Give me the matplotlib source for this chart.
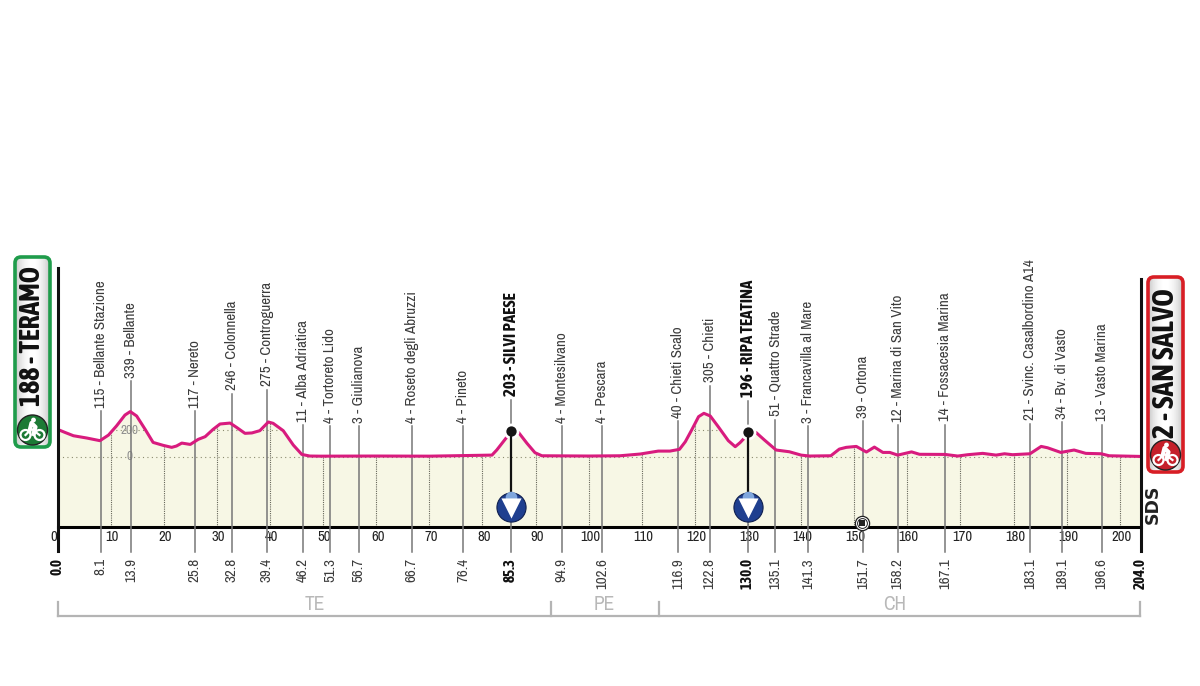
import matplotlib
matplotlib.use('Agg')
import matplotlib.pyplot as plt
import numpy as np
from matplotlib.patches import FancyBboxPatch, Circle
from matplotlib.transforms import ScaledTranslation

NARROW = ['Archivo Narrow', 'Liberation Sans Narrow', 'Liberation Sans', 'DejaVu Sans']
COND = ['Asap Condensed', 'Liberation Sans Narrow', 'Liberation Sans', 'DejaVu Sans']

# profile (km, metres)
profile_km = [0, 1.4, 3.0, 5.5, 8.0, 9.6, 11.1, 12.7, 13.7, 14.9, 16.5, 18.0, 19.9, 21.5, 22.4, 23.4, 25.0,
              26.5, 27.8, 29.3, 30.6, 32.5, 33.7, 35.3, 36.6, 38.1, 39.7, 40.6, 42.5, 44.4, 46.0, 47.5, 49.4,
              60, 70, 81.8, 82.7, 84.9, 85.5, 86.8, 88.4, 89.9, 91.2, 100, 105.9, 109.7, 113.1, 115.3, 117.1,
              118.2, 119.4, 120.7, 121.7, 122.9, 124.4, 126.3, 127.6, 128.5, 129.7, 130.4, 131.5, 133.1, 135.3,
              137.8, 140, 141.6, 145.6, 147.2, 148.5, 150.4, 152.3, 153.8, 155.4, 156.7, 158.2, 160.8, 162.3,
              167.1, 169.5, 171.4, 174.2, 176.7, 178.3, 179.8, 183.1, 185.2, 186.4, 188.9, 191.4, 193.6, 196.5,
              198, 204]
profile_m = [205, 182, 157, 140, 120, 162, 230, 312, 338, 305, 205, 107, 85, 70, 80, 102, 92,
             130, 150, 205, 245, 252, 220, 175, 178, 195, 260, 250, 195, 87, 17, 5, 4,
             5, 4, 12, 50, 162, 190, 182, 100, 30, 7, 5, 7, 20, 42, 42, 55,
             112, 200, 300, 325, 305, 225, 120, 75, 105, 155, 182, 182, 125, 50,
             37, 12, 5, 7, 57, 70, 77, 35, 72, 32, 32, 12, 36, 18,
             17, 5, 15, 25, 12, 22, 15, 22, 77, 67, 32, 50, 25, 22,
             7, 2]

wp_km = [8.1, 13.9, 25.8, 32.8, 39.4, 46.2, 51.3, 56.7, 66.7, 76.4, 85.3, 94.9, 102.6,
         116.9, 122.8, 130.0, 135.1, 141.3, 151.7, 158.2, 167.1, 183.1, 189.1, 196.6]
wp_elev = [115, 339, 117, 246, 275, 11, 4, 3, 4, 4, 203, 4, 4,
           40, 305, 196, 51, 3, 39, 12, 14, 21, 34, 13]
wp_name = ['Bellante Stazione', 'Bellante', 'Nereto', 'Colonnella', 'Controguerra', 'Alba Adriatica',
           'Tortoreto Lido', 'Giulianova', 'Roseto degli Abruzzi', 'Pineto', 'SILVI PAESE', 'Montesilvano',
           'Pescara', 'Chieti Scalo', 'Chieti', 'RIPA TEATINA', 'Quattro Strade', 'Francavilla al Mare',
           'Ortona', 'Marina di San Vito', 'Fossacesia Marina', 'Svinc. Casalbordino A14', 'Bv. di Vasto',
           'Vasto Marina']
sprint_km = [85.3, 130.0]
km_ticks = list(range(0, 201, 10))
elev_ticks = [0, 200]
regions = ['TE', 'PE', 'CH']
region_km = [0, 92.9, 113.2, 203.6]

fig = plt.figure(figsize=(12, 6.86), dpi=100)

# overlay in pixel coordinates for the badges and brackets
deco = fig.add_axes([0, 0, 1, 1], zorder=3)
deco.set_xlim(0, 1200)
deco.set_ylim(686, 0)
deco.axis('off')

ax = fig.add_axes([57.5/1200, (686-527)/686, (1141-57.5)/1200, (527-270)/686], zorder=2)
ax.patch.set_alpha(0)
ax.set_xlim(0, 204)
m_per_px = 1/0.1335
ax.set_ylim((456.7-527)*m_per_px, (456.7-270)*m_per_px)
for s in ['top', 'left', 'right']:
    ax.spines[s].set_visible(False)
ax.spines['bottom'].set_linewidth(2.2)
ax.set_yticks([])


def m_at(py):
    return (456.7-py)*m_per_px


fill = ax.fill_between(profile_km, m_at(527), profile_m, color='#f7f7e5', lw=0, zorder=1)

# elevation guides stay inside the profile
for e in elev_ticks:
    ln, = ax.plot([0, 204], [e, e], color='#8c8c70', lw=0.8, ls=(0, (1, 3)), zorder=2)
    if e > 0:
        ln.set_clip_path(fill.get_paths()[0], ax.transData)
    ax.text(13.5, e, str(e), color='#8f8f8f', fontsize=9.5, family=NARROW, ha='center', va='center', zorder=3)

for k in km_ticks[1:]:
    ax.plot([k, k], [m_at(527), np.interp(k, profile_km, profile_m)], color='#66665a', lw=0.8,
            ls=(0, (1, 1)), zorder=2)

ax.set_xticks(km_ticks)
ax.set_xticklabels(km_ticks, family=NARROW, fontsize=10.5, color='#222222')
ax.tick_params(axis='x', length=0, pad=2.5)
labs = ax.get_xticklabels()
for lab in labs[1:]:
    lab.set_transform(lab.get_transform() + ScaledTranslation(0.015, 0, fig.dpi_scale_trans))
labs[0].set_ha('right')
labs[0].set_transform(labs[0].get_transform() + ScaledTranslation(-0.005, 0, fig.dpi_scale_trans))

for k, e, name in zip(wp_km, wp_elev, wp_name):
    sprint = k in sprint_km
    top = e + 30*m_per_px
    fam = COND if sprint else NARROW
    weight = 'bold' if sprint else 'normal'
    col = '#111111' if sprint else '#3c3c3c'
    ax.plot([k, k], [m_at(552), top], color='#777777', lw=1.1, zorder=4, clip_on=False)
    ax.text(k, top + 3.5*m_per_px, f'{e} - {name}', rotation=90, ha='center', va='bottom', clip_on=False,
            family=fam, fontsize=12.2 if sprint else 10.8, fontweight=weight, color=col, zorder=5)
    ax.text(k, m_at(558), f'{k:.1f}', rotation=90, ha='center', va='top', clip_on=False,
            family=fam, fontsize=10.8, fontweight=weight, color=col, zorder=5)

for k, label in [(0, '0.0'), (204, '204.0')]:
    ax.text(k, m_at(558), label, rotation=90, ha='center', va='top', clip_on=False, family=COND,
            fontsize=10.8, fontweight='bold', color='#111111', zorder=5)

ax.plot(profile_km, profile_m, color='#d81b7e', lw=2.2, zorder=6, solid_capstyle='round', solid_joinstyle='round')

# sprint markers
for k, e in zip(sprint_km, [190, 182]):
    ax.scatter([k], [e], s=130, color='white', lw=0, zorder=7)
    ax.scatter([k], [e], s=55, color='#151515', lw=0, zorder=8)
    ax.plot([k, k], [e, m_at(507)], color='#111111', lw=1.6, zorder=7)
    ax.scatter([k], [m_at(507)], s=440, color='#1f3f8f', edgecolor='#10204f', lw=0.8, zorder=8)
    ax.scatter([k], [m_at(497)], s=70, color='#7fa6dd', lw=0, zorder=9)
    ax.scatter([k], [m_at(508)], s=210, marker='v', color='white', lw=0, zorder=10)

# tunnel mark
ax.scatter([151.4], [m_at(523)], s=105, color='white', edgecolor='#222222', lw=0.9, zorder=8, clip_on=False)
ax.scatter([151.4], [m_at(523)], s=50, color='white', edgecolor='#222222', lw=0.7, zorder=9, clip_on=False)
ax.scatter([151.4], [m_at(523)], s=14, marker='s', color='#222222', lw=0, zorder=10, clip_on=False)

# axis end lines
deco.plot([57.5, 57.5], [268, 551], color='#111111', lw=2.2)
deco.plot([1141, 1141], [279, 551], color='#111111', lw=2.2)

# province brackets
bx = [(k*5.315 + 57.5) for k in region_km]
deco.plot([bx[0], bx[3]], [615.7, 615.7], color='#b4b4b4', lw=1.6)
for x in bx:
    deco.plot([x, x], [602, 615.7], color='#b4b4b4', lw=1.6)
for name, x in zip(regions, [314.7, 604, 895]):
    deco.text(x, 604, name, ha='center', va='center', family=NARROW, fontsize=14, color='#b8b8b8')


def bike(cx, cy):
    for dx in (-7, 7):
        deco.add_patch(Circle((cx+dx, cy+5), 5, fc='none', ec='white', lw=1.6, zorder=8))
    deco.plot([cx-7, cx-1, cx+7], [cy+5, cy-1, cy+5], color='white', lw=1.6, zorder=8)
    deco.plot([cx-3, cx-1, cx+3, cx+1], [cy+1, cy-7, cy-3, cy+4], color='white', lw=3, zorder=8)
    deco.add_patch(Circle((cx+1, cy-10), 2.4, fc='white', ec='none', zorder=8))


def badge(x0, y0, x1, y1, edge, dark, label, tx, ty, fs):
    box = FancyBboxPatch((x0+5, y0+5), x1-x0-10, y1-y0-10, boxstyle='round,pad=5,rounding_size=6',
                         fc='none', ec=edge, lw=2.6, zorder=6)
    deco.add_patch(box)
    t = np.linspace(-1, 1, 40)
    grad = (1 - 0.22*t**2)[None, :]
    im = deco.imshow(grad, extent=(x0, x1, y1, y0), cmap='gray', vmin=0, vmax=1, aspect='auto', zorder=5)
    im.set_clip_path(box)
    deco.set_xlim(0, 1200)
    deco.set_ylim(686, 0)
    deco.text(tx, ty, label, rotation=90, ha='center', va='bottom', family=COND, fontweight='bold',
              fontsize=fs, color='#111111', zorder=7)
    cx = (x0+x1)/2
    cy = y1-17
    deco.add_patch(Circle((cx, cy), 15, fc=dark, ec='#222222', lw=1, zorder=7))
    bike(cx, cy)


badge(15, 257, 50, 447, '#1f9c4b', '#1c7a35', '188 - TERAMO', 33, 406, 20)
badge(1148, 277, 1183, 472, '#d81e25', '#c5202a', '2 - SAN SALVO', 1166, 438, 21.5)

deco.text(1153, 504, 'SDS', rotation=90, ha='center', va='center', family='DejaVu Sans', fontweight='bold',
          fontsize=12.5, color='#222222')

fig.savefig('out.png', dpi=100, facecolor='white')
